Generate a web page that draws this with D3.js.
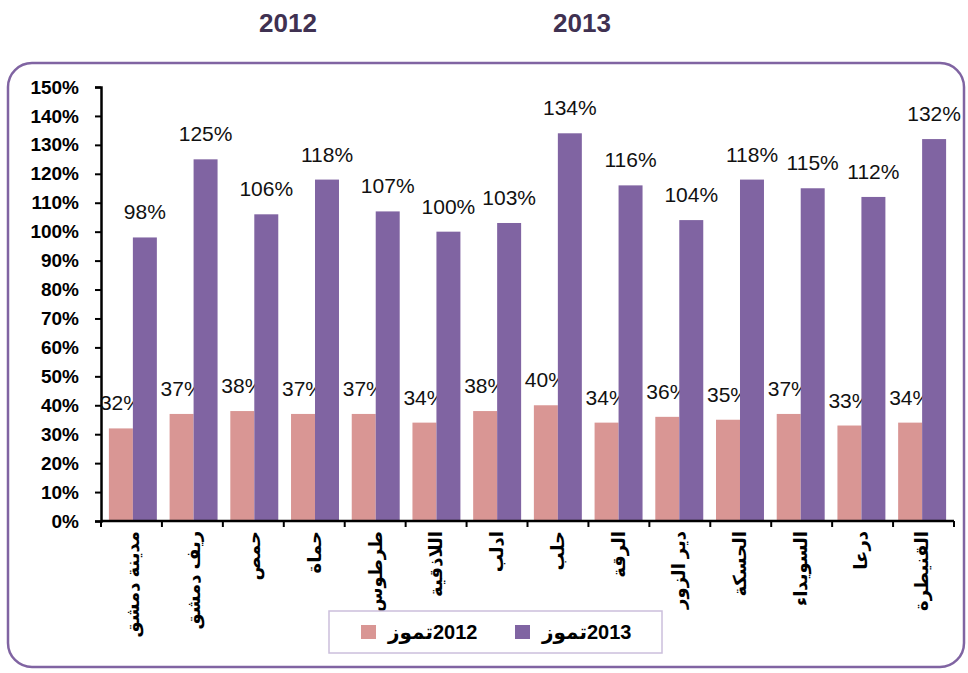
<!DOCTYPE html>
<html>
<head>
<meta charset="UTF-8">
<script src="https://cdn.jsdelivr.net/npm/d3@7"></script>
<style>
  body { margin: 0; background: #fff; }
  text { font-family: Arial, "Liberation Sans", "DejaVu Sans", sans-serif; }
</style>
</head>
<body>
<svg id="chart" width="968" height="673"></svg>
<script>
// data
const regions = ['مدينة دمشق', 'ريف دمشق', 'حمص', 'حماة', 'طرطوس', 'اللاذقية', 'ادلب', 'حلب', 'الرقة', 'دير الزور', 'الحسكة', 'السويداء', 'درعا', 'القنيطرة'];
const july2012 = [32, 37, 38, 37, 37, 34, 38, 40, 34, 36, 35, 37, 33, 34];
const july2013 = [98, 125, 106, 118, 107, 100, 103, 134, 116, 104, 118, 115, 112, 132];
const seriesMonth = 'تموز';
const seriesYears = ['2012', '2013'];
const seriesColors = ['#d99694', '#8064a2'];
const yTicks = d3.range(0, 151, 10);
const headers = ['2012', '2013'];

const svg = d3.select('#chart');

// outer rounded frame
svg.append('rect')
  .attr('x', 8).attr('y', 63)
  .attr('width', 956).attr('height', 604)
  .attr('rx', 24)
  .attr('fill', 'none')
  .attr('stroke', '#8064a2')
  .attr('stroke-width', 2.5);

// year headers
svg.selectAll('.hdr').data(headers).enter().append('text')
  .attr('class', 'hdr')
  .attr('x', (d, i) => [288, 582][i])
  .attr('y', 32)
  .attr('text-anchor', 'middle')
  .attr('font-size', 26)
  .attr('font-weight', 'bold')
  .attr('fill', '#3f3151')
  .text(d => d);

const plotL = 101, plotR = 954, plotT = 87, plotB = 521;

const x0 = d3.scaleBand().domain(regions).range([plotL, plotR])
  .paddingInner(0.21).paddingOuter(0.13);
const x1 = d3.scaleBand().domain([0, 1]).range([0, x0.bandwidth()]);
const y = d3.scaleLinear().domain([0, 150]).range([plotB, plotT]);

const g = svg.append('g');

// y axis
const yAxis = g.append('g')
  .attr('transform', `translate(${plotL},0)`)
  .call(d3.axisLeft(y).tickValues(yTicks).tickSize(6).tickPadding(16).tickFormat(d => d + '%'));
yAxis.select('.domain').attr('stroke', '#000').attr('stroke-width', 2.5);
yAxis.selectAll('.tick line').attr('stroke', '#000').attr('stroke-width', 2);
yAxis.selectAll('.tick text')
  .attr('font-size', 19).attr('font-weight', 'bold').attr('fill', '#000');

// bars
const series = [july2012, july2013];
const groups = g.selectAll('.grp').data(regions).enter().append('g')
  .attr('class', 'grp')
  .attr('transform', d => `translate(${x0(d)},0)`);

series.forEach((vals, s) => {
  groups.append('rect')
    .attr('x', x1(s))
    .attr('y', (d, i) => y(vals[i]))
    .attr('width', x1.bandwidth())
    .attr('height', (d, i) => plotB - y(vals[i]))
    .attr('fill', seriesColors[s]);
  groups.append('text')
    .attr('x', x1(s) + x1.bandwidth() / 2)
    .attr('y', (d, i) => y(vals[i]) - 18)
    .attr('text-anchor', 'middle')
    .attr('font-size', 21)
    .attr('fill', '#111')
    .text((d, i) => vals[i] + '%');
});

// x axis
const xTickPos = d3.range(regions.length + 1).map(i => plotL + i * (plotR - plotL) / regions.length);
g.append('line')
  .attr('x1', plotL).attr('x2', plotR)
  .attr('y1', plotB).attr('y2', plotB)
  .attr('stroke', '#000').attr('stroke-width', 2.5);
g.selectAll('.xt').data(xTickPos).enter().append('line')
  .attr('x1', d => d).attr('x2', d => d)
  .attr('y1', plotB).attr('y2', plotB + 6)
  .attr('stroke', '#000').attr('stroke-width', 2);

g.selectAll('.xl').data(regions).enter().append('text')
  .attr('transform', d => `translate(${x0(d) + x0.bandwidth() / 2 + 6},${plotB + 10}) rotate(-90)`)
  .attr('text-anchor', 'end')
  .attr('font-size', 18)
  .attr('font-weight', 'bold')
  .attr('fill', '#000')
  .text(d => d);

// legend: month word on the left, year on the right
const lg = svg.append('g');
lg.append('rect')
  .attr('x', 329).attr('y', 611)
  .attr('width', 333).attr('height', 42)
  .attr('fill', '#fff')
  .attr('stroke', '#cbbfdc').attr('stroke-width', 1.5);
const items = lg.selectAll('.li').data(seriesYears).enter().append('g')
  .attr('transform', (d, i) => `translate(${[361, 515][i]},625)`);
items.append('rect')
  .attr('width', 15).attr('height', 14)
  .attr('fill', (d, i) => seriesColors[i]);
items.each(function(d) {
  const it = d3.select(this);
  const word = it.append('text')
    .attr('x', 27).attr('y', 14)
    .attr('font-size', 20)
    .attr('font-weight', 'bold')
    .attr('fill', '#000')
    .text(seriesMonth);
  const w = word.node().getComputedTextLength();
  it.append('text')
    .attr('x', 27 + w).attr('y', 14)
    .attr('font-size', 20)
    .attr('font-weight', 'bold')
    .attr('fill', '#000')
    .text(d);
});
</script>
</body>
</html>
